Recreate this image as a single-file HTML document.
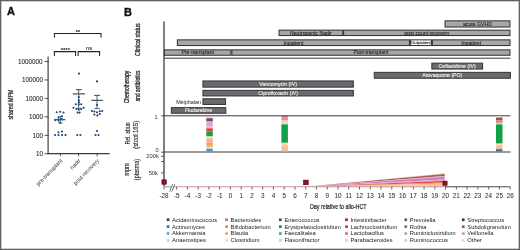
<!DOCTYPE html>
<html><head><meta charset="utf-8"><style>
html,body{margin:0;padding:0;background:#fff;}
svg{display:block;will-change:transform;}
text{font-family:"Liberation Sans", sans-serif;}
</style></head><body>
<svg width="520" height="250" viewBox="0 0 520 250">
<rect x="0" y="0" width="520" height="250" fill="#fff"/>
<rect x="0.65" y="0.65" width="518.7" height="248.7" fill="none" stroke="#606060" stroke-width="1.3"/>
<text x="6.90" y="15.30" font-size="11" fill="#111" font-weight="bold" stroke="#111" stroke-width="0.35">A</text>
<text x="13.30" y="104.60" font-size="6.8" fill="#2a2a2a" text-anchor="middle" textLength="30" lengthAdjust="spacingAndGlyphs" transform="rotate(-90 13.30 104.60)" stroke="#2a2a2a" stroke-width="0.25">shared MPM</text>
<path d="M48.1 56.4V153.6H109.6" fill="none" stroke="#3a3a3a" stroke-width="1.15"/>
<path d="M44.6 153.80H48.5" stroke="#333" stroke-width="0.85"/>
<text x="43.10" y="156.00" font-size="6.3" fill="#2a2a2a" text-anchor="end" stroke="#2a2a2a" stroke-width="0.08">10</text>
<path d="M44.6 135.34H48.5" stroke="#333" stroke-width="0.85"/>
<text x="43.10" y="137.54" font-size="6.3" fill="#2a2a2a" text-anchor="end" stroke="#2a2a2a" stroke-width="0.08">100</text>
<path d="M44.6 116.88H48.5" stroke="#333" stroke-width="0.85"/>
<text x="43.10" y="119.08" font-size="6.3" fill="#2a2a2a" text-anchor="end" stroke="#2a2a2a" stroke-width="0.08">1000</text>
<path d="M44.6 98.42H48.5" stroke="#333" stroke-width="0.85"/>
<text x="43.10" y="100.62" font-size="6.3" fill="#2a2a2a" text-anchor="end" stroke="#2a2a2a" stroke-width="0.08">10000</text>
<path d="M44.6 79.96H48.5" stroke="#333" stroke-width="0.85"/>
<text x="43.10" y="82.16" font-size="6.3" fill="#2a2a2a" text-anchor="end" stroke="#2a2a2a" stroke-width="0.08">100000</text>
<path d="M44.6 61.50H48.5" stroke="#333" stroke-width="0.85"/>
<text x="42.50" y="63.70" font-size="6.3" fill="#2a2a2a" text-anchor="end" stroke="#2a2a2a" stroke-width="0.08">1000000</text>
<path d="M60.4 153.8V156.3" stroke="#333" stroke-width="0.8"/>
<path d="M78.6 153.8V156.3" stroke="#333" stroke-width="0.8"/>
<path d="M97.1 153.8V156.3" stroke="#333" stroke-width="0.8"/>
<text x="62.80" y="161.00" font-size="5.7" fill="#333" text-anchor="end" transform="rotate(-46 62.80 161.00)" >pre-transplant</text>
<text x="81.00" y="161.00" font-size="5.7" fill="#333" text-anchor="end" transform="rotate(-46 81.00 161.00)" >nadir</text>
<text x="99.50" y="161.00" font-size="5.7" fill="#333" text-anchor="end" transform="rotate(-46 99.50 161.00)" >post recovery</text>
<path d="M54.4 37.6V33.4H101V37.6" fill="none" stroke="#222" stroke-width="1.05"/>
<path d="M54.4 56V51.6H75.6V56M78.1 56V51.6H99.6V56" fill="none" stroke="#222" stroke-width="1.05"/>
<text x="77.80" y="33.80" font-size="6.2" fill="#111" text-anchor="middle" font-weight="bold" >**</text>
<text x="65.30" y="52.00" font-size="6.0" fill="#111" text-anchor="middle" font-weight="bold" >****</text>
<text x="89.00" y="49.60" font-size="6.0" fill="#222" text-anchor="middle" stroke="#222" stroke-width="0.08">ns</text>
<path d="M60.4 116.5V123M58.2 116.5H62.6M58.2 123H62.6" stroke="#1b4472" stroke-width="0.7" fill="none"/>
<path d="M78.7 89.6V108.4M75.9 89.6H81.8M75.9 108.4H81.6" stroke="#1b4472" stroke-width="0.8" fill="none"/>
<path d="M97 95.4V108.6M94.4 95.4H99.8M94.4 108.6H99.8" stroke="#1b4472" stroke-width="0.8" fill="none"/>
<circle cx="56.7" cy="112.2" r="1.05" fill="#1b4472"/>
<circle cx="60.3" cy="111.7" r="1.05" fill="#1b4472"/>
<circle cx="63.5" cy="112.5" r="1.05" fill="#1b4472"/>
<circle cx="62.1" cy="116.3" r="1.05" fill="#1b4472"/>
<circle cx="58.5" cy="117.7" r="1.05" fill="#1b4472"/>
<circle cx="55.2" cy="120.1" r="1.05" fill="#1b4472"/>
<circle cx="58.5" cy="120.6" r="1.05" fill="#1b4472"/>
<circle cx="60.3" cy="122.7" r="1.05" fill="#1b4472"/>
<circle cx="61.4" cy="118.8" r="1.05" fill="#1b4472"/>
<circle cx="62.4" cy="119.5" r="1.05" fill="#1b4472"/>
<circle cx="58.5" cy="132.2" r="1.05" fill="#1b4472"/>
<circle cx="62" cy="131.5" r="1.05" fill="#1b4472"/>
<circle cx="55.1" cy="135.1" r="1.05" fill="#1b4472"/>
<circle cx="58.5" cy="135.1" r="1.05" fill="#1b4472"/>
<circle cx="62.1" cy="135.1" r="1.05" fill="#1b4472"/>
<circle cx="65.5" cy="135.1" r="1.05" fill="#1b4472"/>
<circle cx="79" cy="73.6" r="1.05" fill="#1b4472"/>
<circle cx="78.8" cy="97" r="1.05" fill="#1b4472"/>
<circle cx="78.8" cy="100.4" r="1.05" fill="#1b4472"/>
<circle cx="78.8" cy="102.4" r="1.05" fill="#1b4472"/>
<circle cx="75.8" cy="104.2" r="1.05" fill="#1b4472"/>
<circle cx="81.2" cy="104.2" r="1.05" fill="#1b4472"/>
<circle cx="78.8" cy="104.5" r="1.05" fill="#1b4472"/>
<circle cx="73.4" cy="107.8" r="1.05" fill="#1b4472"/>
<circle cx="76.4" cy="109" r="1.05" fill="#1b4472"/>
<circle cx="78.8" cy="109.8" r="1.05" fill="#1b4472"/>
<circle cx="81.2" cy="109" r="1.05" fill="#1b4472"/>
<circle cx="83.6" cy="107.8" r="1.05" fill="#1b4472"/>
<circle cx="77.6" cy="112.6" r="1.05" fill="#1b4472"/>
<circle cx="79.6" cy="112.6" r="1.05" fill="#1b4472"/>
<circle cx="77.3" cy="135" r="1.05" fill="#1b4472"/>
<circle cx="80.4" cy="135" r="1.05" fill="#1b4472"/>
<circle cx="97" cy="81.4" r="1.05" fill="#1b4472"/>
<circle cx="97" cy="105" r="1.05" fill="#1b4472"/>
<circle cx="92" cy="111" r="1.05" fill="#1b4472"/>
<circle cx="94.4" cy="111.5" r="1.05" fill="#1b4472"/>
<circle cx="97" cy="112.2" r="1.05" fill="#1b4472"/>
<circle cx="99.8" cy="111.2" r="1.05" fill="#1b4472"/>
<circle cx="102.2" cy="111" r="1.05" fill="#1b4472"/>
<circle cx="94.4" cy="114.6" r="1.05" fill="#1b4472"/>
<circle cx="97.4" cy="115.4" r="1.05" fill="#1b4472"/>
<circle cx="99.8" cy="114" r="1.05" fill="#1b4472"/>
<circle cx="97" cy="131" r="1.05" fill="#1b4472"/>
<circle cx="95.5" cy="135" r="1.05" fill="#1b4472"/>
<circle cx="98.5" cy="135" r="1.05" fill="#1b4472"/>
<path d="M54.2 119.6H65.4M72.8 93.9H84.9M91.4 100.4H102.8" stroke="#555" stroke-width="1.1"/>
<path d="M75.9 89.6H81.8M94.4 95.4H99.8" stroke="#555" stroke-width="0.8"/>
<text x="123.90" y="15.80" font-size="11" fill="#111" font-weight="bold" stroke="#111" stroke-width="0.35">B</text>
<text x="140.00" y="39.60" font-size="7.2" fill="#2a2a2a" text-anchor="middle" textLength="32.6" lengthAdjust="spacingAndGlyphs" transform="rotate(-90 140.00 39.60)" stroke="#2a2a2a" stroke-width="0.32">Clinical status</text>
<text x="129.40" y="87.00" font-size="7.2" fill="#2a2a2a" text-anchor="middle" textLength="32.6" lengthAdjust="spacingAndGlyphs" transform="rotate(-90 129.40 87.00)" stroke="#2a2a2a" stroke-width="0.32">Chemotherapy</text>
<text x="140.00" y="86.00" font-size="7.2" fill="#2a2a2a" text-anchor="middle" textLength="30.7" lengthAdjust="spacingAndGlyphs" transform="rotate(-90 140.00 86.00)" stroke="#2a2a2a" stroke-width="0.32">and antibiotics</text>
<text x="129.90" y="133.40" font-size="7.2" fill="#2a2a2a" text-anchor="middle" textLength="22.4" lengthAdjust="spacingAndGlyphs" transform="rotate(-90 129.90 133.40)" stroke="#2a2a2a" stroke-width="0.15">Rel. abun</text>
<text x="138.40" y="134.70" font-size="7.2" fill="#2a2a2a" text-anchor="middle" textLength="28" lengthAdjust="spacingAndGlyphs" transform="rotate(-90 138.40 134.70)" stroke="#2a2a2a" stroke-width="0.15">(stool 16S)</text>
<text x="129.40" y="169.50" font-size="7.2" fill="#2a2a2a" text-anchor="middle" textLength="12.6" lengthAdjust="spacingAndGlyphs" transform="rotate(-90 129.40 169.50)" stroke="#2a2a2a" stroke-width="0.15">mpm</text>
<text x="138.70" y="169.50" font-size="7.2" fill="#2a2a2a" text-anchor="middle" textLength="21.3" lengthAdjust="spacingAndGlyphs" transform="rotate(-90 138.70 169.50)" stroke="#2a2a2a" stroke-width="0.15">(plasma)</text>
<path d="M164 21.6V186.6" stroke="#2a2a2a" stroke-width="1.2"/>
<path d="M164 58.2H510.5" stroke="#383838" stroke-width="1.0"/>
<path d="M164 115.8H510.5" stroke="#383838" stroke-width="1.0"/>
<path d="M164 152.0H510.5" stroke="#383838" stroke-width="1.0"/>
<rect x="445.05" y="20.85" width="64.90" height="6.20" fill="#a7a7ab" stroke="#2e2e2e" stroke-width="1.0"/>
<text x="477.50" y="25.82" font-size="5.2" fill="#222" text-anchor="middle" stroke="#222" stroke-width="0.1">acute GVHD</text>
<rect x="279.05" y="30.15" width="63.70" height="5.40" fill="#a7a7ab" stroke="#2e2e2e" stroke-width="1.0"/>
<text x="310.90" y="34.72" font-size="5.2" fill="#222" text-anchor="middle" stroke="#222" stroke-width="0.1">Neutropenic Nadir</text>
<rect x="343.65" y="30.15" width="166.30" height="5.40" fill="#a7a7ab" stroke="#2e2e2e" stroke-width="1.0"/>
<text x="426.80" y="34.72" font-size="5.2" fill="#222" text-anchor="middle" stroke="#222" stroke-width="0.1">post count recovery</text>
<rect x="177.35" y="39.85" width="232.10" height="5.70" fill="#a7a7ab" stroke="#2e2e2e" stroke-width="1.0"/>
<text x="293.40" y="44.57" font-size="5.2" fill="#222" text-anchor="middle" stroke="#222" stroke-width="0.1">Inpatient</text>
<rect x="410.35" y="39.85" width="21.10" height="5.70" fill="#f4f4f4" stroke="#2e2e2e" stroke-width="1.0"/>
<text x="420.90" y="44.25" font-size="4.3" fill="#222" text-anchor="middle" stroke="#222" stroke-width="0.1">Outpatient</text>
<rect x="432.35" y="39.85" width="77.60" height="5.70" fill="#a7a7ab" stroke="#2e2e2e" stroke-width="1.0"/>
<text x="471.15" y="44.57" font-size="5.2" fill="#222" text-anchor="middle" stroke="#222" stroke-width="0.1">Inpatient</text>
<rect x="164.45" y="49.85" width="66.50" height="5.40" fill="#a7a7ab" stroke="#2e2e2e" stroke-width="1.0"/>
<text x="197.70" y="54.42" font-size="5.2" fill="#222" text-anchor="middle" stroke="#222" stroke-width="0.1">Pre-transplant</text>
<rect x="231.85" y="49.85" width="278.10" height="5.40" fill="#a7a7ab" stroke="#2e2e2e" stroke-width="1.0"/>
<text x="370.90" y="54.42" font-size="5.2" fill="#222" text-anchor="middle" stroke="#222" stroke-width="0.1">Post-transplant</text>
<rect x="431.85" y="63.15" width="50.70" height="5.90" fill="#6c696f" stroke="#333" stroke-width="1.0"/>
<text x="457.20" y="67.97" font-size="5.2" fill="#f2f2f2" text-anchor="middle" stroke="#f2f2f2" stroke-width="0.1">Ceftazidime (IV)</text>
<rect x="374.25" y="72.35" width="136.10" height="5.90" fill="#6c696f" stroke="#333" stroke-width="1.0"/>
<text x="442.30" y="77.17" font-size="5.2" fill="#f2f2f2" text-anchor="middle" stroke="#f2f2f2" stroke-width="0.1">Atovaquone (PO)</text>
<rect x="202.95" y="80.95" width="150.40" height="6.20" fill="#6c696f" stroke="#333" stroke-width="1.0"/>
<text x="278.15" y="85.92" font-size="5.2" fill="#f2f2f2" text-anchor="middle" stroke="#f2f2f2" stroke-width="0.1">Vancomycin (IV)</text>
<rect x="202.95" y="90.35" width="150.40" height="5.60" fill="#6c696f" stroke="#333" stroke-width="1.0"/>
<text x="278.15" y="95.02" font-size="5.2" fill="#f2f2f2" text-anchor="middle" stroke="#f2f2f2" stroke-width="0.1">Ciprofloxacin (IV)</text>
<rect x="202.95" y="98.75" width="22.60" height="5.70" fill="#6c696f" stroke="#333" stroke-width="1.0"/>
<text x="201.00" y="103.60" font-size="5.4" fill="#222" text-anchor="end" >Melphalan</text>
<rect x="171.35" y="107.65" width="54.50" height="5.60" fill="#6c696f" stroke="#333" stroke-width="1.0"/>
<text x="198.60" y="112.32" font-size="5.2" fill="#f2f2f2" text-anchor="middle" stroke="#f2f2f2" stroke-width="0.1">Fludarabine</text>
<path d="M161 115.8H164M161 152.2H164M161 156.2H164M161 161.5H164M161 172.9H164" stroke="#333" stroke-width="0.8"/>
<text x="157.60" y="118.60" font-size="5.6" fill="#333" text-anchor="end" >1</text>
<text x="158.60" y="151.60" font-size="5.6" fill="#333" text-anchor="end" >0</text>
<text x="158.80" y="157.60" font-size="5.8" fill="#333" text-anchor="end" >200k</text>
<text x="158.00" y="175.00" font-size="5.8" fill="#333" text-anchor="end" >50k</text>
<rect x="206.3" y="117.4" width="6.5" height="0.8999999999999915" fill="#e6b4be"/>
<rect x="206.3" y="118.3" width="6.5" height="2.700000000000003" fill="#7a4254"/>
<rect x="206.3" y="121.0" width="6.5" height="0.7999999999999972" fill="#c08ea6"/>
<rect x="206.3" y="121.8" width="6.5" height="4.200000000000003" fill="#d4a8d8"/>
<rect x="206.3" y="126" width="6.5" height="1.5999999999999943" fill="#ecbccc"/>
<rect x="206.3" y="127.6" width="6.5" height="0.8000000000000114" fill="#f08080"/>
<rect x="206.3" y="128.4" width="6.5" height="3.0" fill="#e43c3c"/>
<rect x="206.3" y="131.4" width="6.5" height="5.099999999999994" fill="#14a048"/>
<rect x="206.3" y="136.5" width="6.5" height="1.6999999999999886" fill="#f2eadc"/>
<rect x="206.3" y="138.2" width="6.5" height="4.300000000000011" fill="#f7b48e"/>
<rect x="206.3" y="142.5" width="6.5" height="4.300000000000011" fill="#f3a664"/>
<rect x="206.3" y="146.8" width="6.5" height="1.8999999999999773" fill="#f1e0c4"/>
<rect x="206.3" y="148.7" width="6.5" height="2.700000000000017" fill="#5592c6"/>
<rect x="281.4" y="116.2" width="6.5" height="1.0" fill="#7a6060"/>
<rect x="281.4" y="117.2" width="6.5" height="3.200000000000003" fill="#ef8f8f"/>
<rect x="281.4" y="120.4" width="6.5" height="2.0" fill="#f6c4bc"/>
<rect x="281.4" y="122.4" width="6.5" height="2.0" fill="#e8d8c8"/>
<rect x="281.4" y="124.4" width="6.5" height="18.400000000000006" fill="#12a046"/>
<rect x="281.4" y="142.8" width="6.5" height="2.3999999999999773" fill="#f4d8c8"/>
<rect x="281.4" y="145.2" width="6.5" height="6.200000000000017" fill="#f8c090"/>
<rect x="496.0" y="116.2" width="6.5" height="1.2999999999999972" fill="#f0d8d8"/>
<rect x="496.0" y="117.5" width="6.5" height="2.9000000000000057" fill="#a05050"/>
<rect x="496.0" y="120.4" width="6.5" height="2.3999999999999915" fill="#e08070"/>
<rect x="496.0" y="122.8" width="6.5" height="1.6000000000000085" fill="#c8d8b0"/>
<rect x="496.0" y="124.4" width="6.5" height="19.19999999999999" fill="#12a046"/>
<rect x="496.0" y="143.6" width="6.5" height="1.5999999999999943" fill="#f4e0cc"/>
<rect x="496.0" y="145.2" width="6.5" height="4.0" fill="#f8c090"/>
<rect x="496.0" y="149.2" width="6.5" height="2.200000000000017" fill="#3070a0"/>
<polygon points="305.72,186.8 444.70,173.3 444.70,173.9" fill="#f3c2a6"/>
<polygon points="305.72,186.8 444.70,173.9 444.70,175.9" fill="#a45e52"/>
<polygon points="305.72,186.8 444.70,175.9 444.70,176.8" fill="#e8a0c0"/>
<polygon points="305.72,186.8 444.70,176.8 444.70,179.4" fill="#c483c8"/>
<polygon points="305.72,186.8 444.70,179.4 444.70,180.7" fill="#f0a0c0"/>
<polygon points="305.72,186.8 444.70,180.7 444.70,182.5" fill="#e85050"/>
<polygon points="305.72,186.8 444.70,182.5 444.70,183.6" fill="#f08050"/>
<polygon points="305.72,186.8 444.70,183.6 444.70,185.1" fill="#f8c090"/>
<polygon points="305.72,186.8 444.70,185.1 444.70,186.6" fill="#c8dca8"/>
<path d="M164 186.8H171" stroke="#888" stroke-width="0.9"/>
<path d="M173.5 186.8H444.70" stroke="#c99494" stroke-width="1.1"/>
<path d="M444.70 186.8H510.5" stroke="#333" stroke-width="0.9"/>
<path d="M169.6 191.6L172.6 184.2M171.8 191.6L174.8 184.2" stroke="#333" stroke-width="0.7"/>
<path d="M164.00 186.8V189.6" stroke="#444" stroke-width="0.8"/>
<text x="164.00" y="198.30" font-size="6.35" fill="#2e2e2e" text-anchor="middle" stroke="#2e2e2e" stroke-width="0.04">-28</text>
<path d="M176.60 186.8V189.6" stroke="#444" stroke-width="0.8"/>
<text x="176.60" y="198.30" font-size="6.35" fill="#2e2e2e" text-anchor="middle" stroke="#2e2e2e" stroke-width="0.04">-5</text>
<path d="M187.36 186.8V189.6" stroke="#444" stroke-width="0.8"/>
<text x="187.36" y="198.30" font-size="6.35" fill="#2e2e2e" text-anchor="middle" stroke="#2e2e2e" stroke-width="0.04">-4</text>
<path d="M198.12 186.8V189.6" stroke="#444" stroke-width="0.8"/>
<text x="198.12" y="198.30" font-size="6.35" fill="#2e2e2e" text-anchor="middle" stroke="#2e2e2e" stroke-width="0.04">-3</text>
<path d="M208.88 186.8V189.6" stroke="#444" stroke-width="0.8"/>
<text x="208.88" y="198.30" font-size="6.35" fill="#2e2e2e" text-anchor="middle" stroke="#2e2e2e" stroke-width="0.04">-2</text>
<path d="M219.64 186.8V189.6" stroke="#444" stroke-width="0.8"/>
<text x="219.64" y="198.30" font-size="6.35" fill="#2e2e2e" text-anchor="middle" stroke="#2e2e2e" stroke-width="0.04">-1</text>
<path d="M230.40 186.8V189.6" stroke="#444" stroke-width="0.8"/>
<text x="230.40" y="198.30" font-size="6.35" fill="#2e2e2e" text-anchor="middle" stroke="#2e2e2e" stroke-width="0.04">0</text>
<path d="M241.16 186.8V189.6" stroke="#444" stroke-width="0.8"/>
<text x="241.16" y="198.30" font-size="6.35" fill="#2e2e2e" text-anchor="middle" stroke="#2e2e2e" stroke-width="0.04">1</text>
<path d="M251.92 186.8V189.6" stroke="#444" stroke-width="0.8"/>
<text x="251.92" y="198.30" font-size="6.35" fill="#2e2e2e" text-anchor="middle" stroke="#2e2e2e" stroke-width="0.04">2</text>
<path d="M262.68 186.8V189.6" stroke="#444" stroke-width="0.8"/>
<text x="262.68" y="198.30" font-size="6.35" fill="#2e2e2e" text-anchor="middle" stroke="#2e2e2e" stroke-width="0.04">3</text>
<path d="M273.44 186.8V189.6" stroke="#444" stroke-width="0.8"/>
<text x="273.44" y="198.30" font-size="6.35" fill="#2e2e2e" text-anchor="middle" stroke="#2e2e2e" stroke-width="0.04">4</text>
<path d="M284.20 186.8V189.6" stroke="#444" stroke-width="0.8"/>
<text x="284.20" y="198.30" font-size="6.35" fill="#2e2e2e" text-anchor="middle" stroke="#2e2e2e" stroke-width="0.04">5</text>
<path d="M294.96 186.8V189.6" stroke="#444" stroke-width="0.8"/>
<text x="294.96" y="198.30" font-size="6.35" fill="#2e2e2e" text-anchor="middle" stroke="#2e2e2e" stroke-width="0.04">6</text>
<path d="M305.72 186.8V189.6" stroke="#444" stroke-width="0.8"/>
<text x="305.72" y="198.30" font-size="6.35" fill="#2e2e2e" text-anchor="middle" stroke="#2e2e2e" stroke-width="0.04">7</text>
<path d="M316.48 186.8V189.6" stroke="#444" stroke-width="0.8"/>
<text x="316.48" y="198.30" font-size="6.35" fill="#2e2e2e" text-anchor="middle" stroke="#2e2e2e" stroke-width="0.04">8</text>
<path d="M327.24 186.8V189.6" stroke="#444" stroke-width="0.8"/>
<text x="327.24" y="198.30" font-size="6.35" fill="#2e2e2e" text-anchor="middle" stroke="#2e2e2e" stroke-width="0.04">9</text>
<path d="M338.00 186.8V189.6" stroke="#444" stroke-width="0.8"/>
<text x="338.00" y="198.30" font-size="6.35" fill="#2e2e2e" text-anchor="middle" stroke="#2e2e2e" stroke-width="0.04">10</text>
<path d="M348.76 186.8V189.6" stroke="#444" stroke-width="0.8"/>
<text x="348.76" y="198.30" font-size="6.35" fill="#2e2e2e" text-anchor="middle" stroke="#2e2e2e" stroke-width="0.04">11</text>
<path d="M359.52 186.8V189.6" stroke="#444" stroke-width="0.8"/>
<text x="359.52" y="198.30" font-size="6.35" fill="#2e2e2e" text-anchor="middle" stroke="#2e2e2e" stroke-width="0.04">12</text>
<path d="M370.28 186.8V189.6" stroke="#444" stroke-width="0.8"/>
<text x="370.28" y="198.30" font-size="6.35" fill="#2e2e2e" text-anchor="middle" stroke="#2e2e2e" stroke-width="0.04">13</text>
<path d="M381.04 186.8V189.6" stroke="#444" stroke-width="0.8"/>
<text x="381.04" y="198.30" font-size="6.35" fill="#2e2e2e" text-anchor="middle" stroke="#2e2e2e" stroke-width="0.04">14</text>
<path d="M391.80 186.8V189.6" stroke="#444" stroke-width="0.8"/>
<text x="391.80" y="198.30" font-size="6.35" fill="#2e2e2e" text-anchor="middle" stroke="#2e2e2e" stroke-width="0.04">15</text>
<path d="M402.56 186.8V189.6" stroke="#444" stroke-width="0.8"/>
<text x="402.56" y="198.30" font-size="6.35" fill="#2e2e2e" text-anchor="middle" stroke="#2e2e2e" stroke-width="0.04">16</text>
<path d="M413.32 186.8V189.6" stroke="#444" stroke-width="0.8"/>
<text x="413.32" y="198.30" font-size="6.35" fill="#2e2e2e" text-anchor="middle" stroke="#2e2e2e" stroke-width="0.04">17</text>
<path d="M424.08 186.8V189.6" stroke="#444" stroke-width="0.8"/>
<text x="424.08" y="198.30" font-size="6.35" fill="#2e2e2e" text-anchor="middle" stroke="#2e2e2e" stroke-width="0.04">18</text>
<path d="M434.84 186.8V189.6" stroke="#444" stroke-width="0.8"/>
<text x="434.84" y="198.30" font-size="6.35" fill="#2e2e2e" text-anchor="middle" stroke="#2e2e2e" stroke-width="0.04">19</text>
<path d="M445.60 186.8V189.6" stroke="#444" stroke-width="0.8"/>
<text x="445.60" y="198.30" font-size="6.35" fill="#2e2e2e" text-anchor="middle" stroke="#2e2e2e" stroke-width="0.04">20</text>
<path d="M456.36 186.8V189.6" stroke="#444" stroke-width="0.8"/>
<text x="456.36" y="198.30" font-size="6.35" fill="#2e2e2e" text-anchor="middle" stroke="#2e2e2e" stroke-width="0.04">21</text>
<path d="M467.12 186.8V189.6" stroke="#444" stroke-width="0.8"/>
<text x="467.12" y="198.30" font-size="6.35" fill="#2e2e2e" text-anchor="middle" stroke="#2e2e2e" stroke-width="0.04">22</text>
<path d="M477.88 186.8V189.6" stroke="#444" stroke-width="0.8"/>
<text x="477.88" y="198.30" font-size="6.35" fill="#2e2e2e" text-anchor="middle" stroke="#2e2e2e" stroke-width="0.04">23</text>
<path d="M488.64 186.8V189.6" stroke="#444" stroke-width="0.8"/>
<text x="488.64" y="198.30" font-size="6.35" fill="#2e2e2e" text-anchor="middle" stroke="#2e2e2e" stroke-width="0.04">24</text>
<path d="M499.40 186.8V189.6" stroke="#444" stroke-width="0.8"/>
<text x="499.40" y="198.30" font-size="6.35" fill="#2e2e2e" text-anchor="middle" stroke="#2e2e2e" stroke-width="0.04">25</text>
<path d="M510.16 186.8V189.6" stroke="#444" stroke-width="0.8"/>
<text x="510.16" y="198.30" font-size="6.35" fill="#2e2e2e" text-anchor="middle" stroke="#2e2e2e" stroke-width="0.04">26</text>
<rect x="161.90" y="179.80" width="4.4" height="4.4" fill="#8e0f2e" stroke="#4a0515" stroke-width="0.6"/>
<rect x="303.60" y="180.10" width="4.6" height="4.6" fill="#8e0f2e" stroke="#4a0515" stroke-width="0.6"/>
<rect x="442.90" y="181.10" width="4.2" height="4.2" fill="#8e0f2e" stroke="#4a0515" stroke-width="0.6"/>
<text x="310.00" y="209.10" font-size="7.9" fill="#222" textLength="56.5" lengthAdjust="spacingAndGlyphs" stroke="#222" stroke-width="0.22">Day relative to allo-HCT</text>
<rect x="166.70" y="218.40" width="2.7" height="2.7" fill="#24436e"/>
<text x="172.10" y="221.60" font-size="5.8" fill="#222" >Acidaminococcus</text>
<rect x="166.70" y="225.30" width="2.7" height="2.7" fill="#2580a4"/>
<text x="172.10" y="228.50" font-size="5.8" fill="#222" >Actinomyces</text>
<rect x="166.70" y="232.20" width="2.7" height="2.7" fill="#52acd0"/>
<text x="172.10" y="235.40" font-size="5.8" fill="#222" >Akkermansia</text>
<rect x="166.70" y="239.10" width="2.7" height="2.7" fill="#bcdcec"/>
<text x="172.10" y="242.30" font-size="5.8" fill="#222" >Anaerostipes</text>
<rect x="225.20" y="218.40" width="2.7" height="2.7" fill="#c8763e"/>
<text x="230.60" y="221.60" font-size="5.8" fill="#222" >Bacteroides</text>
<rect x="225.20" y="225.30" width="2.7" height="2.7" fill="#d38c60"/>
<text x="230.60" y="228.50" font-size="5.8" fill="#222" >Bifidobacterium</text>
<rect x="225.20" y="232.20" width="2.7" height="2.7" fill="#dca886"/>
<text x="230.60" y="235.40" font-size="5.8" fill="#222" >Blautia</text>
<rect x="225.20" y="239.10" width="2.7" height="2.7" fill="#f3dac8"/>
<text x="230.60" y="242.30" font-size="5.8" fill="#222" >Clostridium</text>
<rect x="279.00" y="218.40" width="2.7" height="2.7" fill="#1e6c3e"/>
<text x="284.40" y="221.60" font-size="5.8" fill="#222" >Enterococcus</text>
<rect x="279.00" y="225.30" width="2.7" height="2.7" fill="#1f8246"/>
<text x="284.40" y="228.50" font-size="5.8" fill="#222" >Erysipelatoclostridium</text>
<rect x="279.00" y="232.20" width="2.7" height="2.7" fill="#5aa276"/>
<text x="284.40" y="235.40" font-size="5.8" fill="#222" >Faecalitalea</text>
<rect x="279.00" y="239.10" width="2.7" height="2.7" fill="#bed8c6"/>
<text x="284.40" y="242.30" font-size="5.8" fill="#222" >Flavonifractor</text>
<rect x="345.10" y="218.40" width="2.7" height="2.7" fill="#a21e3c"/>
<text x="350.50" y="221.60" font-size="5.8" fill="#222" >Intestinibacter</text>
<rect x="345.10" y="225.30" width="2.7" height="2.7" fill="#c4324a"/>
<text x="350.50" y="228.50" font-size="5.8" fill="#222" >Lachnoclostridium</text>
<rect x="345.10" y="232.20" width="2.7" height="2.7" fill="#d4747e"/>
<text x="350.50" y="235.40" font-size="5.8" fill="#222" >Lactobacillus</text>
<rect x="345.10" y="239.10" width="2.7" height="2.7" fill="#eccad2"/>
<text x="350.50" y="242.30" font-size="5.8" fill="#222" >Parabacteroides</text>
<rect x="404.40" y="218.40" width="2.7" height="2.7" fill="#665672"/>
<text x="409.80" y="221.60" font-size="5.8" fill="#222" >Prevotella</text>
<rect x="404.40" y="225.30" width="2.7" height="2.7" fill="#8a6896"/>
<text x="409.80" y="228.50" font-size="5.8" fill="#222" >Rothia</text>
<rect x="404.40" y="232.20" width="2.7" height="2.7" fill="#b69ec6"/>
<text x="409.80" y="235.40" font-size="5.8" fill="#222" >Ruminiclostridium</text>
<rect x="404.40" y="239.10" width="2.7" height="2.7" fill="#d8cee2"/>
<text x="409.80" y="242.30" font-size="5.8" fill="#222" >Ruminococcus</text>
<rect x="461.90" y="218.40" width="2.7" height="2.7" fill="#4e2c2e"/>
<text x="467.30" y="221.60" font-size="5.8" fill="#222" >Streptococcus</text>
<rect x="461.90" y="225.30" width="2.7" height="2.7" fill="#8e5664"/>
<text x="467.30" y="228.50" font-size="5.8" fill="#222" >Subdoligranulum</text>
<rect x="461.90" y="232.20" width="2.7" height="2.7" fill="#c69ea6"/>
<text x="467.30" y="235.40" font-size="5.8" fill="#222" >Veillonella</text>
<rect x="461.90" y="239.10" width="2.7" height="2.7" fill="#f0cede"/>
<text x="467.30" y="242.30" font-size="5.8" fill="#222" >Other</text>
</svg>
</body></html>
